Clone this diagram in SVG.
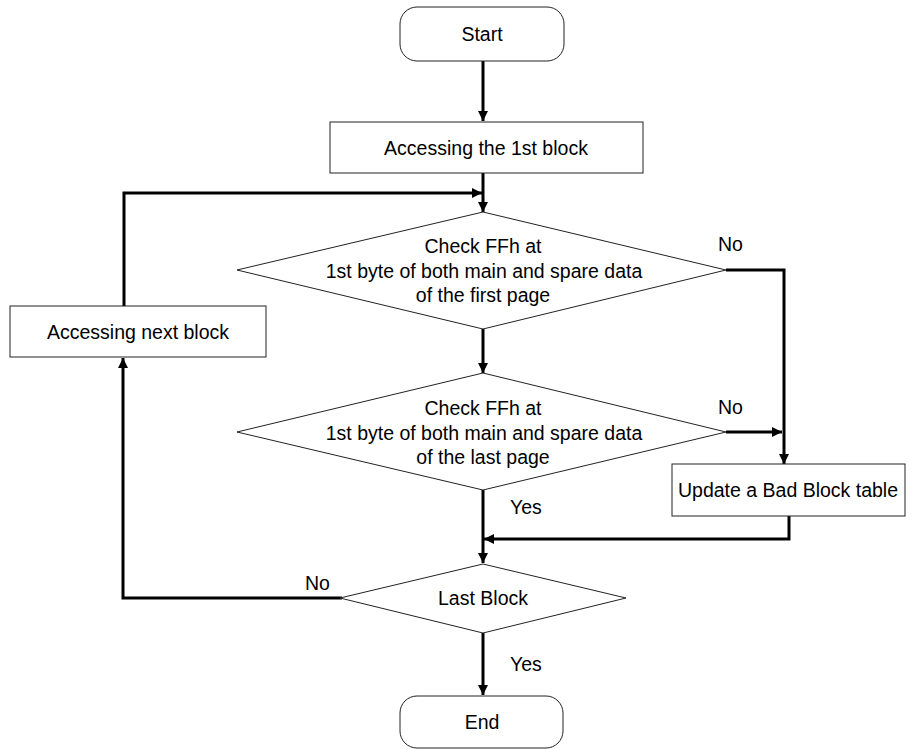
<svg xmlns="http://www.w3.org/2000/svg" width="923" height="749" viewBox="0 0 923 749">
<defs>
<marker id="ah" viewBox="0 0 10 10" refX="10" refY="5" markerWidth="10" markerHeight="10" markerUnits="userSpaceOnUse" orient="auto">
<path d="M0,0 L10,5 L0,10 z" fill="#000"/>
</marker>
<style>
.shape{fill:#fff;stroke:#222;stroke-width:1}
.t{font-family:"Liberation Sans",Arial,sans-serif;font-size:19.5px;fill:#000;text-anchor:middle}
.lb{font-family:"Liberation Sans",Arial,sans-serif;font-size:19.5px;fill:#000}
.c{fill:none;stroke:#000;stroke-width:3}
.ca{fill:none;stroke:#000;stroke-width:3;marker-end:url(#ah)}
</style>
</defs>
<rect width="923" height="749" fill="#fff"/>
<g id="connectors">
<line class="ca" x1="483" y1="61" x2="483" y2="121"/>
<line class="ca" x1="483" y1="173" x2="483" y2="212"/>
<polyline class="ca" points="124,306 124,193 482,193"/>
<polyline class="ca" points="726,270 784,270 784,464"/>
<line class="ca" x1="483" y1="329" x2="483" y2="373"/>
<line class="ca" x1="726" y1="432" x2="782" y2="432"/>
<line class="ca" x1="483" y1="490" x2="483" y2="563"/>
<polyline class="ca" points="789,516 789,539 484,539"/>
<polyline class="ca" points="342,598 123,598 123,358"/>
<line class="ca" x1="483" y1="633" x2="483" y2="695"/>
<text class="lb" x="718" y="251">No</text>
<text class="lb" x="718" y="414">No</text>
<text class="lb" x="305" y="590">No</text>
<text class="lb" x="510" y="514">Yes</text>
<text class="lb" x="510" y="671">Yes</text>
</g>
<g id="start">
<rect class="shape" x="400" y="7" width="164" height="54" rx="17"/>
<text class="t" x="482" y="41">Start</text>
</g>
<g id="access1">
<rect class="shape" x="330" y="122" width="313" height="51"/>
<text class="t" x="486" y="155">Accessing the 1st block</text>
</g>
<g id="check-first">
<polygon class="shape" points="483,212 726,270 483,329 237,270"/>
<text class="t" x="483" y="253">Check FFh at</text>
<text class="t" x="484" y="278">1st byte of both main and spare data</text>
<text class="t" x="483" y="302">of the first page</text>
</g>
<g id="check-last">
<polygon class="shape" points="483,373 726,432 483,490 237,432"/>
<text class="t" x="483" y="415">Check FFh at</text>
<text class="t" x="484" y="440">1st byte of both main and spare data</text>
<text class="t" x="483" y="464">of the last page</text>
</g>
<g id="next-block">
<rect class="shape" x="10" y="306" width="256" height="51"/>
<text class="t" x="138" y="339">Accessing next block</text>
</g>
<g id="update-bbt">
<rect class="shape" x="672" y="464" width="233" height="52"/>
<text class="t" x="788" y="497">Update a Bad Block table</text>
</g>
<g id="last-block">
<polygon class="shape" points="483,564 626,598 483,633 340,598"/>
<text class="t" x="483" y="605">Last Block</text>
</g>
<g id="end">
<rect class="shape" x="400" y="696" width="163" height="52" rx="17"/>
<text class="t" x="482" y="729">End</text>
</g>
</svg>
